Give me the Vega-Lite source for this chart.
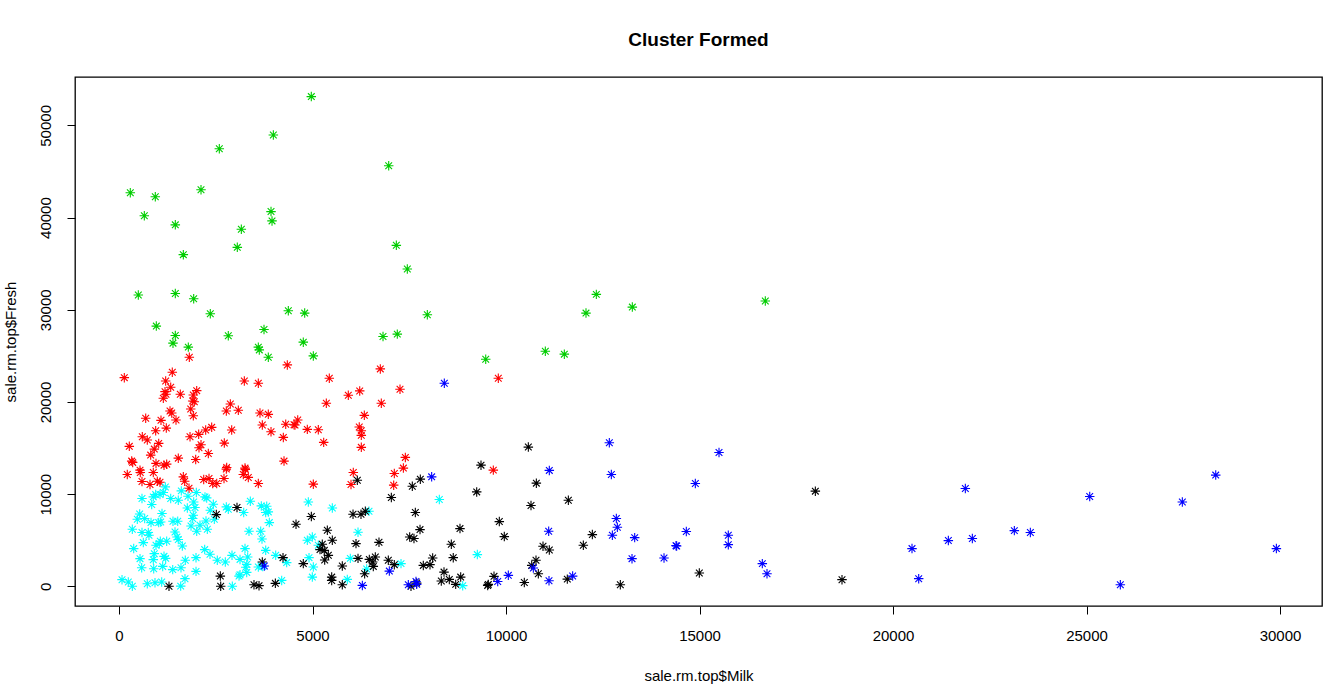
{
"$schema":"https://vega.github.io/schema/vega-lite/v6.json",
"autosize":"none",
"width":1247,"height":529,
"padding":{"left":75,"top":77,"right":20,"bottom":84},
"background":"white",
"config":{"view":{"stroke":"black","strokeWidth":1.3},"font":"Liberation Sans"},
"title":{"text":"Cluster Formed","fontSize":19,"fontWeight":"bold","font":"Liberation Sans","color":"black","offset":27,"anchor":"middle"},
"data":{"values":[
{"m":4969,"f":53120,"c":"3"},{"m":3988,"f":48950,"c":"3"},{"m":2592,"f":47470,"c":"3"},{"m":6969,"f":45620,"c":"3"},{"m":292,"f":42690,"c":"3"},{"m":938,"f":42250,"c":"3"},{"m":2119,"f":43010,"c":"3"},{"m":654,"f":40190,"c":"3"},{"m":1455,"f":39210,"c":"3"},{"m":3928,"f":40650,"c":"3"},{"m":3954,"f":39640,"c":"3"},{"m":3161,"f":38730,"c":"3"},{"m":3057,"f":36770,"c":"3"},{"m":1662,"f":35980,"c":"3"},{"m":7166,"f":36990,"c":"3"},{"m":7450,"f":34430,"c":"3"},{"m":499,"f":31600,"c":"3"},{"m":1455,"f":31770,"c":"3"},{"m":1930,"f":31200,"c":"3"},{"m":2359,"f":29570,"c":"3"},{"m":4375,"f":29890,"c":"3"},{"m":4798,"f":29640,"c":"3"},{"m":7967,"f":29460,"c":"3"},{"m":964,"f":28230,"c":"3"},{"m":1455,"f":27210,"c":"3"},{"m":2824,"f":27180,"c":"3"},{"m":3747,"f":27860,"c":"3"},{"m":6822,"f":27100,"c":"3"},{"m":7191,"f":27360,"c":"3"},{"m":1395,"f":26380,"c":"3"},{"m":1791,"f":25950,"c":"3"},{"m":3600,"f":25950,"c":"3"},{"m":3625,"f":25650,"c":"3"},{"m":3858,"f":24860,"c":"3"},{"m":4762,"f":26490,"c":"3"},{"m":5021,"f":25000,"c":"3"},{"m":9476,"f":24640,"c":"3"},{"m":12334,"f":31670,"c":"3"},{"m":13264,"f":30290,"c":"3"},{"m":12067,"f":29640,"c":"3"},{"m":16700,"f":30950,"c":"3"},{"m":11016,"f":25510,"c":"3"},{"m":11507,"f":25190,"c":"3"},
{"m":1817,"f":24860,"c":"2"},{"m":4349,"f":24020,"c":"2"},{"m":137,"f":22640,"c":"2"},{"m":1377,"f":23230,"c":"2"},{"m":3238,"f":22280,"c":"2"},{"m":3600,"f":22030,"c":"2"},{"m":1206,"f":22280,"c":"2"},{"m":1336,"f":21600,"c":"2"},{"m":1189,"f":21120,"c":"2"},{"m":1145,"f":20400,"c":"2"},{"m":1214,"f":20840,"c":"2"},{"m":1584,"f":20840,"c":"2"},{"m":2008,"f":21230,"c":"2"},{"m":1920,"f":20760,"c":"2"},{"m":1904,"f":20110,"c":"2"},{"m":1946,"f":20030,"c":"2"},{"m":1853,"f":19240,"c":"2"},{"m":1920,"f":18510,"c":"2"},{"m":1318,"f":19020,"c":"2"},{"m":1362,"f":18800,"c":"2"},{"m":1473,"f":18040,"c":"2"},{"m":690,"f":18230,"c":"2"},{"m":1085,"f":18010,"c":"2"},{"m":948,"f":16880,"c":"2"},{"m":1222,"f":17170,"c":"2"},{"m":602,"f":16230,"c":"2"},{"m":731,"f":15870,"c":"2"},{"m":1026,"f":15510,"c":"2"},{"m":266,"f":15190,"c":"2"},{"m":912,"f":14890,"c":"2"},{"m":819,"f":14240,"c":"2"},{"m":328,"f":13590,"c":"2"},{"m":354,"f":13450,"c":"2"},{"m":956,"f":13340,"c":"2"},{"m":1163,"f":13150,"c":"2"},{"m":1232,"f":13260,"c":"2"},{"m":543,"f":12610,"c":"2"},{"m":1532,"f":13910,"c":"2"},{"m":1835,"f":16230,"c":"2"},{"m":2059,"f":16490,"c":"2"},{"m":2119,"f":15360,"c":"2"},{"m":2067,"f":15030,"c":"2"},{"m":2240,"f":16960,"c":"2"},{"m":2395,"f":17250,"c":"2"},{"m":1982,"f":13770,"c":"2"},{"m":2308,"f":14420,"c":"2"},{"m":2721,"f":15540,"c":"2"},{"m":2912,"f":16960,"c":"2"},{"m":2877,"f":19780,"c":"2"},{"m":2773,"f":19020,"c":"2"},{"m":3083,"f":19100,"c":"2"},{"m":3643,"f":18800,"c":"2"},{"m":3858,"f":18660,"c":"2"},{"m":3703,"f":17500,"c":"2"},{"m":3928,"f":16770,"c":"2"},{"m":4246,"f":16160,"c":"2"},{"m":4308,"f":17580,"c":"2"},{"m":4548,"f":17500,"c":"2"},{"m":4618,"f":18040,"c":"2"},{"m":4264,"f":13590,"c":"2"},{"m":2783,"f":12900,"c":"2"},{"m":3256,"f":12830,"c":"2"},{"m":214,"f":12140,"c":"2"},{"m":550,"f":12360,"c":"2"},{"m":886,"f":12360,"c":"2"},{"m":594,"f":11380,"c":"2"},{"m":801,"f":11050,"c":"2"},{"m":990,"f":11410,"c":"2"},{"m":1059,"f":11300,"c":"2"},{"m":1662,"f":11880,"c":"2"},{"m":1697,"f":11410,"c":"2"},{"m":1809,"f":10650,"c":"2"},{"m":2189,"f":11600,"c":"2"},{"m":2326,"f":11710,"c":"2"},{"m":2421,"f":11160,"c":"2"},{"m":2525,"f":11160,"c":"2"},{"m":2713,"f":11710,"c":"2"},{"m":2773,"f":12720,"c":"2"},{"m":3212,"f":12140,"c":"2"},{"m":3264,"f":12690,"c":"2"},{"m":3341,"f":11820,"c":"2"},{"m":3600,"f":11160,"c":"2"},{"m":6752,"f":23590,"c":"2"},{"m":5434,"f":22580,"c":"2"},{"m":5925,"f":20730,"c":"2"},{"m":6220,"f":21200,"c":"2"},{"m":5357,"f":19860,"c":"2"},{"m":6778,"f":19860,"c":"2"},{"m":7261,"f":21380,"c":"2"},{"m":6339,"f":18550,"c":"2"},{"m":4522,"f":17530,"c":"2"},{"m":4866,"f":17030,"c":"2"},{"m":5150,"f":16990,"c":"2"},{"m":6208,"f":17280,"c":"2"},{"m":6261,"f":16880,"c":"2"},{"m":6261,"f":16380,"c":"2"},{"m":5289,"f":15620,"c":"2"},{"m":6261,"f":15080,"c":"2"},{"m":7399,"f":13990,"c":"2"},{"m":7348,"f":12830,"c":"2"},{"m":7114,"f":12250,"c":"2"},{"m":6054,"f":12360,"c":"2"},{"m":5995,"f":11050,"c":"2"},{"m":7098,"f":10980,"c":"2"},{"m":5021,"f":11090,"c":"2"},{"m":9672,"f":12610,"c":"2"},{"m":9801,"f":22580,"c":"2"},
{"m":1197,"f":10790,"c":"5"},{"m":948,"f":9970,"c":"5"},{"m":886,"f":9710,"c":"5"},{"m":1059,"f":9970,"c":"5"},{"m":1145,"f":10190,"c":"5"},{"m":594,"f":9530,"c":"5"},{"m":845,"f":8880,"c":"5"},{"m":1336,"f":9530,"c":"5"},{"m":1532,"f":9350,"c":"5"},{"m":1610,"f":10360,"c":"5"},{"m":1783,"f":9780,"c":"5"},{"m":1998,"f":10190,"c":"5"},{"m":2222,"f":9710,"c":"5"},{"m":2266,"f":9600,"c":"5"},{"m":1930,"f":9160,"c":"5"},{"m":1964,"f":8550,"c":"5"},{"m":1765,"f":8510,"c":"5"},{"m":2437,"f":8910,"c":"5"},{"m":2359,"f":8260,"c":"5"},{"m":2773,"f":8620,"c":"5"},{"m":2824,"f":8370,"c":"5"},{"m":3393,"f":9240,"c":"5"},{"m":3222,"f":8010,"c":"5"},{"m":3677,"f":8730,"c":"5"},{"m":3817,"f":8700,"c":"5"},{"m":3858,"f":8080,"c":"5"},{"m":3791,"f":8010,"c":"5"},{"m":534,"f":7860,"c":"5"},{"m":473,"f":7280,"c":"5"},{"m":664,"f":7360,"c":"5"},{"m":1111,"f":7900,"c":"5"},{"m":1077,"f":6990,"c":"5"},{"m":1026,"f":6920,"c":"5"},{"m":827,"f":6920,"c":"5"},{"m":757,"f":5840,"c":"5"},{"m":775,"f":5540,"c":"5"},{"m":1395,"f":7070,"c":"5"},{"m":1517,"f":7070,"c":"5"},{"m":1920,"f":7720,"c":"5"},{"m":1904,"f":7360,"c":"5"},{"m":344,"f":6200,"c":"5"},{"m":594,"f":5840,"c":"5"},{"m":2008,"f":5980,"c":"5"},{"m":2093,"f":6630,"c":"5"},{"m":2248,"f":7100,"c":"5"},{"m":2282,"f":6200,"c":"5"},{"m":2463,"f":7280,"c":"5"},{"m":1861,"f":6550,"c":"5"},{"m":1447,"f":5900,"c":"5"},{"m":1499,"f":5360,"c":"5"},{"m":1532,"f":5080,"c":"5"},{"m":1232,"f":4890,"c":"5"},{"m":1067,"f":4890,"c":"5"},{"m":1041,"f":4640,"c":"5"},{"m":956,"f":4460,"c":"5"},{"m":380,"f":4100,"c":"5"},{"m":628,"f":4750,"c":"5"},{"m":1636,"f":4380,"c":"5"},{"m":912,"f":3550,"c":"5"},{"m":1163,"f":3260,"c":"5"},{"m":1206,"f":3040,"c":"5"},{"m":543,"f":3010,"c":"5"},{"m":886,"f":2900,"c":"5"},{"m":897,"f":1920,"c":"5"},{"m":586,"f":2030,"c":"5"},{"m":1129,"f":2170,"c":"5"},{"m":1388,"f":1820,"c":"5"},{"m":1602,"f":2030,"c":"5"},{"m":1713,"f":2830,"c":"5"},{"m":1990,"f":3120,"c":"5"},{"m":2214,"f":3990,"c":"5"},{"m":2351,"f":3480,"c":"5"},{"m":2540,"f":2830,"c":"5"},{"m":2747,"f":2640,"c":"5"},{"m":2920,"f":3370,"c":"5"},{"m":3127,"f":2930,"c":"5"},{"m":3256,"f":4100,"c":"5"},{"m":3325,"f":3190,"c":"5"},{"m":3274,"f":2070,"c":"5"},{"m":3300,"f":1520,"c":"5"},{"m":3127,"f":1270,"c":"5"},{"m":1990,"f":1630,"c":"5"},{"m":1705,"f":840,"c":"5"},{"m":1594,"f":30,"c":"5"},{"m":930,"f":400,"c":"5"},{"m":1103,"f":470,"c":"5"},{"m":731,"f":290,"c":"5"},{"m":78,"f":730,"c":"5"},{"m":240,"f":470,"c":"5"},{"m":344,"f":20,"c":"5"},{"m":2928,"f":20,"c":"5"},{"m":3101,"f":1120,"c":"5"},{"m":3359,"f":5980,"c":"5"},{"m":3661,"f":5980,"c":"5"},{"m":3695,"f":5140,"c":"5"},{"m":3791,"f":3910,"c":"5"},{"m":4049,"f":3370,"c":"5"},{"m":4333,"f":2580,"c":"5"},{"m":3884,"f":6920,"c":"5"},{"m":3300,"f":2390,"c":"5"},{"m":3600,"f":2100,"c":"5"},{"m":3713,"f":2170,"c":"5"},{"m":4204,"f":650,"c":"5"},{"m":4892,"f":9160,"c":"5"},{"m":5512,"f":8510,"c":"5"},{"m":8277,"f":9420,"c":"5"},{"m":6460,"f":8150,"c":"5"},{"m":6176,"f":5870,"c":"5"},{"m":4866,"f":5000,"c":"5"},{"m":4995,"f":5360,"c":"5"},{"m":5150,"f":4460,"c":"5"},{"m":4910,"f":3120,"c":"5"},{"m":5021,"f":2100,"c":"5"},{"m":4995,"f":1010,"c":"5"},{"m":5977,"f":3040,"c":"5"},{"m":6400,"f":1880,"c":"5"},{"m":5899,"f":760,"c":"5"},{"m":7287,"f":2470,"c":"5"},{"m":9259,"f":3450,"c":"5"},{"m":8881,"f":80,"c":"5"},
{"m":2515,"f":7790,"c":"1"},{"m":3049,"f":8550,"c":"1"},{"m":4574,"f":6740,"c":"1"},{"m":3703,"f":2640,"c":"1"},{"m":4238,"f":3120,"c":"1"},{"m":2618,"f":1120,"c":"1"},{"m":2628,"f":20,"c":"1"},{"m":1292,"f":20,"c":"1"},{"m":3488,"f":180,"c":"1"},{"m":3618,"f":80,"c":"1"},{"m":4040,"f":330,"c":"1"},{"m":9354,"f":13150,"c":"1"},{"m":6158,"f":11520,"c":"1"},{"m":7786,"f":11630,"c":"1"},{"m":7579,"f":10870,"c":"1"},{"m":9243,"f":10250,"c":"1"},{"m":7037,"f":9640,"c":"1"},{"m":4970,"f":7580,"c":"1"},{"m":6047,"f":7830,"c":"1"},{"m":6253,"f":7830,"c":"1"},{"m":6365,"f":8150,"c":"1"},{"m":7657,"f":8010,"c":"1"},{"m":5383,"f":6090,"c":"1"},{"m":5512,"f":5000,"c":"1"},{"m":6124,"f":4640,"c":"1"},{"m":6718,"f":4780,"c":"1"},{"m":7511,"f":5360,"c":"1"},{"m":7622,"f":5190,"c":"1"},{"m":7778,"f":6160,"c":"1"},{"m":8811,"f":6270,"c":"1"},{"m":8587,"f":4570,"c":"1"},{"m":5253,"f":4570,"c":"1"},{"m":5194,"f":3990,"c":"1"},{"m":5305,"f":3910,"c":"1"},{"m":5409,"f":3370,"c":"1"},{"m":5315,"f":2860,"c":"1"},{"m":4762,"f":2470,"c":"1"},{"m":5770,"f":2210,"c":"1"},{"m":6176,"f":3040,"c":"1"},{"m":6468,"f":2930,"c":"1"},{"m":6556,"f":2640,"c":"1"},{"m":6623,"f":3190,"c":"1"},{"m":6571,"f":2170,"c":"1"},{"m":6959,"f":2830,"c":"1"},{"m":7114,"f":2360,"c":"1"},{"m":6347,"f":1380,"c":"1"},{"m":5496,"f":1010,"c":"1"},{"m":5496,"f":650,"c":"1"},{"m":5770,"f":180,"c":"1"},{"m":7863,"f":2280,"c":"1"},{"m":8036,"f":2360,"c":"1"},{"m":8105,"f":3080,"c":"1"},{"m":8637,"f":3120,"c":"1"},{"m":8398,"f":1550,"c":"1"},{"m":8328,"f":580,"c":"1"},{"m":8535,"f":760,"c":"1"},{"m":8700,"f":220,"c":"1"},{"m":8829,"f":1010,"c":"1"},{"m":7692,"f":360,"c":"1"},{"m":7545,"f":20,"c":"1"},{"m":9527,"f":110,"c":"1"},{"m":10577,"f":15110,"c":"1"},{"m":10784,"f":11200,"c":"1"},{"m":11611,"f":9350,"c":"1"},{"m":10646,"f":8770,"c":"1"},{"m":9827,"f":7030,"c":"1"},{"m":9956,"f":5400,"c":"1"},{"m":12231,"f":5620,"c":"1"},{"m":11998,"f":4460,"c":"1"},{"m":10956,"f":4350,"c":"1"},{"m":11119,"f":3950,"c":"1"},{"m":10775,"f":2830,"c":"1"},{"m":10664,"f":2280,"c":"1"},{"m":10835,"f":1380,"c":"1"},{"m":9690,"f":1090,"c":"1"},{"m":9543,"f":220,"c":"1"},{"m":10473,"f":430,"c":"1"},{"m":11584,"f":790,"c":"1"},{"m":12954,"f":180,"c":"1"},{"m":17993,"f":10330,"c":"1"},{"m":14995,"f":1450,"c":"1"},{"m":18682,"f":730,"c":"1"},
{"m":8406,"f":22030,"c":"4"},{"m":3755,"f":2210,"c":"4"},{"m":8079,"f":11880,"c":"4"},{"m":6985,"f":1660,"c":"4"},{"m":6288,"f":110,"c":"4"},{"m":7476,"f":180,"c":"4"},{"m":7674,"f":540,"c":"4"},{"m":7692,"f":220,"c":"4"},{"m":12670,"f":15580,"c":"4"},{"m":11119,"f":12580,"c":"4"},{"m":12722,"f":12140,"c":"4"},{"m":12851,"f":7360,"c":"4"},{"m":12877,"f":6410,"c":"4"},{"m":12748,"f":5540,"c":"4"},{"m":11103,"f":5980,"c":"4"},{"m":13325,"f":5290,"c":"4"},{"m":14393,"f":4420,"c":"4"},{"m":13256,"f":3010,"c":"4"},{"m":14083,"f":3080,"c":"4"},{"m":10706,"f":1990,"c":"4"},{"m":10060,"f":1200,"c":"4"},{"m":9786,"f":540,"c":"4"},{"m":11111,"f":620,"c":"4"},{"m":11722,"f":1120,"c":"4"},{"m":15504,"f":14530,"c":"4"},{"m":14892,"f":11160,"c":"4"},{"m":14659,"f":5950,"c":"4"},{"m":14410,"f":4380,"c":"4"},{"m":15744,"f":5540,"c":"4"},{"m":15744,"f":4530,"c":"4"},{"m":16623,"f":2470,"c":"4"},{"m":16744,"f":1380,"c":"4"},{"m":21869,"f":10620,"c":"4"},{"m":20491,"f":4100,"c":"4"},{"m":20664,"f":840,"c":"4"},{"m":21430,"f":4970,"c":"4"},{"m":22050,"f":5190,"c":"4"},{"m":23135,"f":6050,"c":"4"},{"m":23549,"f":5840,"c":"4"},{"m":25083,"f":9750,"c":"4"},{"m":25874,"f":180,"c":"4"},{"m":27476,"f":9160,"c":"4"},{"m":28339,"f":12070,"c":"4"},{"m":29906,"f":4100,"c":"4"}
]},
"mark":{"type":"point","shape":"M-1,0L1,0M0,-1L0,1M-0.707,-0.707L0.707,0.707M-0.707,0.707L0.707,-0.707","filled":false,"size":90,"strokeWidth":1.1,"opacity":1},
"encoding":{
"x":{"field":"m","type":"quantitative","scale":{"domain":[-1137,31085],"nice":false,"zero":false},
"axis":{"title":"sale.rm.top$Milk","values":[0,5000,10000,15000,20000,25000,30000],"format":"d","grid":false,"domain":false,"tickColor":"black","tickSize":8,"tickWidth":1,"labelColor":"black","labelFont":"Liberation Sans","labelFontSize":15,"labelPadding":14,"titleFont":"Liberation Sans","titleFontSize":15,"titleFontWeight":"normal","titleColor":"black","titlePadding":25}},
"y":{"field":"f","type":"quantitative","scale":{"domain":[-2125,55245],"nice":false,"zero":false},
"axis":{"title":"sale.rm.top$Fresh","values":[0,10000,20000,30000,40000,50000],"format":"d","grid":false,"domain":false,"tickColor":"black","tickSize":8,"tickWidth":1,"labelColor":"black","labelFont":"Liberation Sans","labelFontSize":15,"labelAngle":-90,"labelAlign":"center","labelBaseline":"bottom","labelPadding":14,"titleFont":"Liberation Sans","titleFontSize":15,"titleFontWeight":"normal","titleColor":"black","titlePadding":20}},
"color":{"field":"c","type":"nominal","scale":{"domain":["1","2","3","4","5"],"range":["#000000","#FF0000","#00CD00","#0000FF","#00FFFF"]},"legend":null}
}
}
